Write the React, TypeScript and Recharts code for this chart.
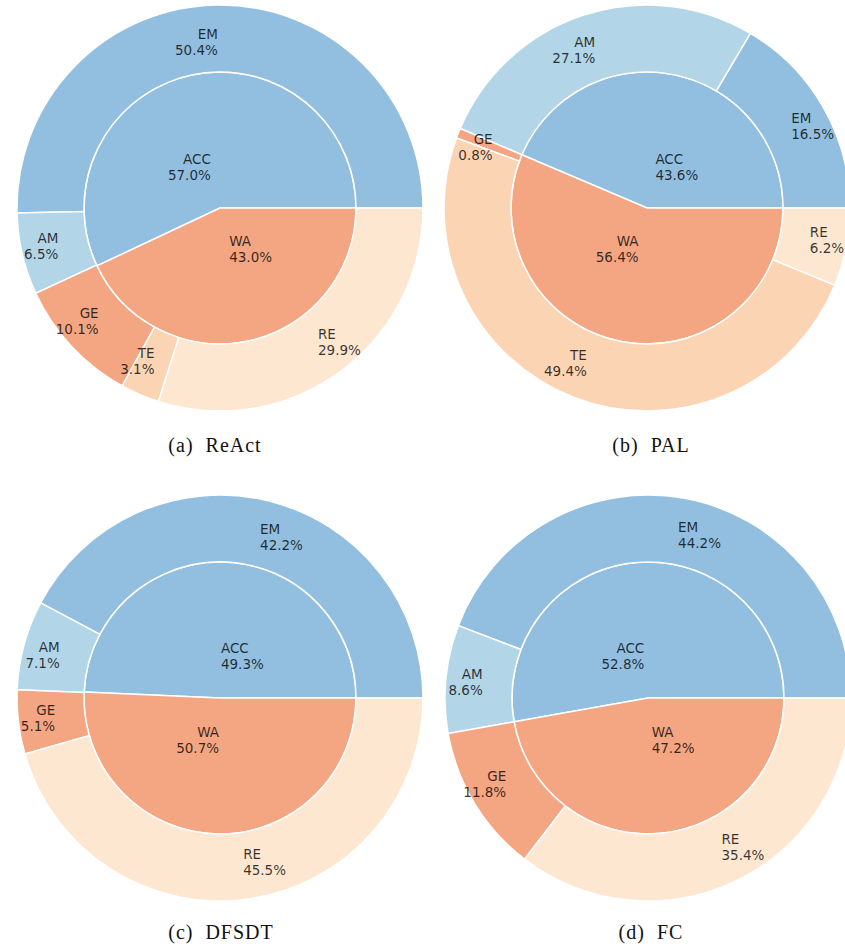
import { PieChart, Pie, Cell } from 'recharts'

// One entry per method, in panel order (a)-(d)
const methods = ['ReAct', 'PAL', 'DFSDT', 'FC']
const tags = ['(a)', '(b)', '(c)', '(d)']

// Inner ring: accepted vs wrong answers (%)
const accShare = [57.0, 43.6, 49.3, 52.8]
const waShare = [43.0, 56.4, 50.7, 47.2]

// Outer ring: breakdown (%)
const emShare = [50.4, 16.5, 42.2, 44.2]
const amShare = [6.5, 27.1, 7.1, 8.6]
const geShare = [10.1, 0.8, 5.1, 11.8]
const teShare = [3.1, 49.4, 0, 0]
const reShare = [29.9, 6.2, 45.5, 35.4]

const colors: Record<string, string> = {
  ACC: '#92bfdf',
  WA: '#f4a582',
  EM: '#92bfdf',
  AM: '#b3d5e8',
  GE: '#f4a582',
  TE: '#fbd4b4',
  RE: '#fde7d1',
}

// panel placement: chart centre and caption centre
const panels = [
  { left: 0, top: 0, cx: 220, cy: 208, capX: 215, capY: 445 },
  { left: 427, top: 0, cx: 220, cy: 208, capX: 224, capY: 445 },
  { left: 0, top: 490, cx: 220, cy: 208, capX: 221, capY: 442 },
  { left: 428, top: 490, cx: 220, cy: 208, capX: 223, capY: 442 },
]

const OUTER_R = 203
const INNER_R = 136

const labelAt = (r: number) => (props: any) => {
  const { cx, cy, midAngle } = props
  const name = props.name ?? props.payload?.name
  const value = props.value ?? props.payload?.value
  const rad = (Math.PI / 180) * midAngle
  const x = cx + r * Math.cos(rad)
  const y = cy - r * Math.sin(rad)
  const anchor = Math.cos(rad) < 0 ? 'end' : 'start'
  return (
    <text
      x={x}
      y={y}
      textAnchor={anchor}
      fontFamily="DejaVu Sans"
      fontSize={13.5}
      fill="#000"
      fillOpacity={0.78}
    >
      <tspan x={x} y={y - 8} dominantBaseline="central">{name}</tspan>
      <tspan x={x} y={y + 8} dominantBaseline="central">{Number(value).toFixed(1)}%</tspan>
    </text>
  )
}

function NestedPie({ i }: { i: number }) {
  const p = panels[i]
  const inner = [
    { name: 'ACC', value: accShare[i] },
    { name: 'WA', value: waShare[i] },
  ]
  const outer = [
    { name: 'EM', value: emShare[i] },
    { name: 'AM', value: amShare[i] },
    { name: 'GE', value: geShare[i] },
    { name: 'TE', value: teShare[i] },
    { name: 'RE', value: reShare[i] },
  ].filter(d => d.value > 0)

  return (
    <div style={{ position: 'absolute', left: p.left, top: p.top, width: 440, height: 470 }}>
      <PieChart width={440} height={420} margin={{ top: 0, right: 0, bottom: 0, left: 0 }}>
        <Pie
          data={inner}
          dataKey="value"
          nameKey="name"
          cx={p.cx}
          cy={p.cy}
          innerRadius={0}
          outerRadius={INNER_R}
          startAngle={0}
          endAngle={360}
          stroke="#fff"
          strokeWidth={1.5}
          label={labelAt(42)}
          labelLine={false}
          isAnimationActive={false}
        >
          {inner.map(d => (
            <Cell key={d.name} fill={colors[d.name]} />
          ))}
        </Pie>
        <Pie
          data={outer}
          dataKey="value"
          nameKey="name"
          cx={p.cx}
          cy={p.cy}
          innerRadius={INNER_R}
          outerRadius={OUTER_R}
          startAngle={0}
          endAngle={360}
          stroke="#fff"
          strokeWidth={1.5}
          label={labelAt(166)}
          labelLine={false}
          isAnimationActive={false}
        >
          {outer.map(d => (
            <Cell key={d.name} fill={colors[d.name]} />
          ))}
        </Pie>
      </PieChart>
      <div
        style={{
          position: 'absolute',
          left: p.capX - 100,
          top: p.capY - 14,
          width: 200,
          textAlign: 'center',
          fontFamily: '"Liberation Serif", serif',
          fontSize: 20,
          lineHeight: '28px',
          letterSpacing: 1,
          color: '#111',
          whiteSpace: 'pre',
        }}
      >
        {tags[i]}  {methods[i]}
      </div>
    </div>
  )
}

export default function App() {
  return (
    <div
      style={{
        position: 'fixed',
        left: 0,
        top: 0,
        width: 845,
        height: 950,
        overflow: 'hidden',
        background: '#fff',
      }}
    >
      {methods.map((m, i) => (
        <NestedPie key={m} i={i} />
      ))}
    </div>
  )
}
